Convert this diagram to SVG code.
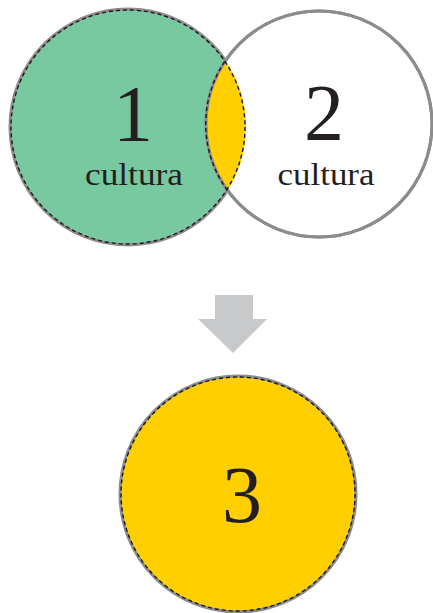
<svg xmlns="http://www.w3.org/2000/svg" width="433" height="613" viewBox="0 0 433 613">
<style>
.outer{stroke:#8c8c8c;stroke-width:3}
.dash{fill:none;stroke:#1a1a1a;stroke-width:1.4;stroke-dasharray:4 3}
.num{font-family:"Liberation Serif","DejaVu Serif",serif;font-size:80px;fill:#231f20;text-anchor:middle}
.lbl{font-family:"Liberation Serif","DejaVu Serif",serif;font-size:31px;fill:#231f20;text-anchor:middle}
</style>
<rect width="433" height="613" fill="#ffffff"/>
<g id="node1">
<circle cx="128" cy="127" r="118" fill="#78c8a0" class="outer"/>
</g>
<g id="node2">
<circle cx="319" cy="124" r="113" fill="#ffffff" class="outer"/>
</g>
<g id="overlap">
<path d="M225.5 60.5 A118 118 0 0 1 227.5 190.4 A113 113 0 0 1 225.5 60.5 Z" fill="#ffcf00"/>
<circle cx="319" cy="124" r="113" fill="none" class="outer"/>
<circle cx="128" cy="127" r="117" class="dash"/>
<path d="M227.5 190.4 A112 112 0 0 1 225.5 60.5" class="dash"/>
</g>
<g id="labels12">
<text x="133" y="141" class="num">1</text>
<text x="134" y="185" class="lbl" textLength="98" lengthAdjust="spacingAndGlyphs">cultura</text>
<text x="324" y="140" class="num">2</text>
<text x="326" y="185" class="lbl" textLength="97" lengthAdjust="spacingAndGlyphs">cultura</text>
</g>
<g id="connectors">
<path d="M215 295 L253 295 L253 319 L267 319 L233 353 L198 319 L215 319 Z" fill="#c8c9cb"/>
</g>
<g id="node3">
<circle cx="238" cy="494" r="118" fill="#ffcf00" class="outer"/>
<circle cx="238" cy="494" r="117" class="dash"/>
<text x="242" y="522" class="num">3</text>
</g>
</svg>
